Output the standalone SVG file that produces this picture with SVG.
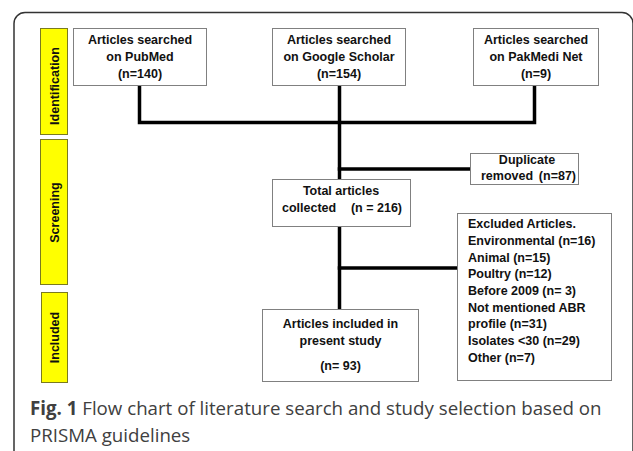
<svg xmlns="http://www.w3.org/2000/svg" width="633" height="451" viewBox="0 0 633 451">
<style>
.frame{fill:none;stroke:#333;stroke-width:1.5}
.bar{fill:#ffff00;stroke:#7a7a20;stroke-width:1}
.box{fill:#fff;stroke:#808080;stroke-width:1}
.t{font-family:"Liberation Sans",Arial,sans-serif;font-weight:bold;font-size:12.5px;fill:#111}
.c{text-anchor:middle}
.conn{fill:none;stroke:#000;stroke-width:3.5;stroke-linecap:square}
.cap{font-family:"Open Sans","Noto Sans",sans-serif;font-size:18.7px;fill:#404040}
</style>
<rect width="633" height="451" fill="#fff"/>
<rect class="frame" x="14" y="12.5" width="619" height="450" rx="11"/>

<g id="bar-identification">
<rect class="bar" x="40.5" y="28.5" width="27" height="106"/>
<text class="t c" transform="translate(58.5,86) rotate(-90)">Identification</text>
</g>
<g id="bar-screening">
<rect class="bar" x="40.5" y="139.5" width="27" height="145"/>
<text class="t c" transform="translate(58.5,212.5) rotate(-90)">Screening</text>
</g>
<g id="bar-included">
<rect class="bar" x="41.5" y="292.5" width="26" height="90"/>
<text class="t c" transform="translate(58.5,337.5) rotate(-90)">Included</text>
</g>

<g id="connectors">
<path class="conn" d="M139.5,87 V122.5 H534.5 V87"/>
<path class="conn" d="M339.5,87 V178"/>
<path class="conn" d="M339.5,169 H469"/>
<path class="conn" d="M339.5,228 V308"/>
<path class="conn" d="M339.5,268 H456"/>
</g>

<g id="pubmed">
<rect class="box" x="73.5" y="28.5" width="133" height="57"/>
<text class="t c" x="140" y="44">Articles searched</text>
<text class="t c" x="140" y="61">on PubMed</text>
<text class="t c" x="140" y="77.5">(n=140)</text>
</g>
<g id="google">
<rect class="box" x="272.5" y="28.5" width="133" height="57"/>
<text class="t c" x="339" y="44">Articles searched</text>
<text class="t c" x="339" y="61">on Google Scholar</text>
<text class="t c" x="339" y="77.5">(n=154)</text>
</g>
<g id="pakmedi">
<rect class="box" x="473.5" y="28.5" width="125" height="57"/>
<text class="t c" x="536" y="44">Articles searched</text>
<text class="t c" x="536" y="61">on PakMedi Net</text>
<text class="t c" x="536" y="77.5">(n=9)</text>
</g>
<g id="duplicate">
<rect class="box" x="470.5" y="153.5" width="108" height="31"/>
<text class="t c" x="527" y="164">Duplicate</text>
<text class="t" x="481" y="180">removed</text>
<text class="t" x="576" y="180" text-anchor="end">(n=87)</text>
</g>
<g id="total">
<rect class="box" x="272.5" y="179.5" width="138" height="47"/>
<text class="t c" x="341" y="195">Total articles</text>
<text class="t" x="282" y="212">collected</text>
<text class="t" x="402" y="212" text-anchor="end">(n = 216)</text>
</g>
<g id="excluded">
<rect class="box" x="457.5" y="213.5" width="154" height="167"/>
<text class="t" x="468" y="228">Excluded Articles.</text>
<text class="t" x="468" y="245">Environmental (n=16)</text>
<text class="t" x="468" y="262">Animal (n=15)</text>
<text class="t" x="468" y="278">Poultry (n=12)</text>
<text class="t" x="468" y="295">Before 2009 (n= 3)</text>
<text class="t" x="468" y="311.5">Not mentioned ABR</text>
<text class="t" x="468" y="328">profile (n=31)</text>
<text class="t" x="468" y="345">Isolates &lt;30 (n=29)</text>
<text class="t" x="468" y="361.5">Other (n=7)</text>
</g>
<g id="included">
<rect class="box" x="262.5" y="309.5" width="156" height="72"/>
<text class="t c" x="340.5" y="328">Articles included in</text>
<text class="t c" x="340.5" y="345">present study</text>
<text class="t c" x="340.5" y="370">(n= 93)</text>
</g>

<text class="cap" x="30" y="415"><tspan font-weight="bold">Fig. 1</tspan> Flow chart of literature search and study selection based on</text>
<text class="cap" x="30" y="442">PRISMA guidelines</text>
</svg>
